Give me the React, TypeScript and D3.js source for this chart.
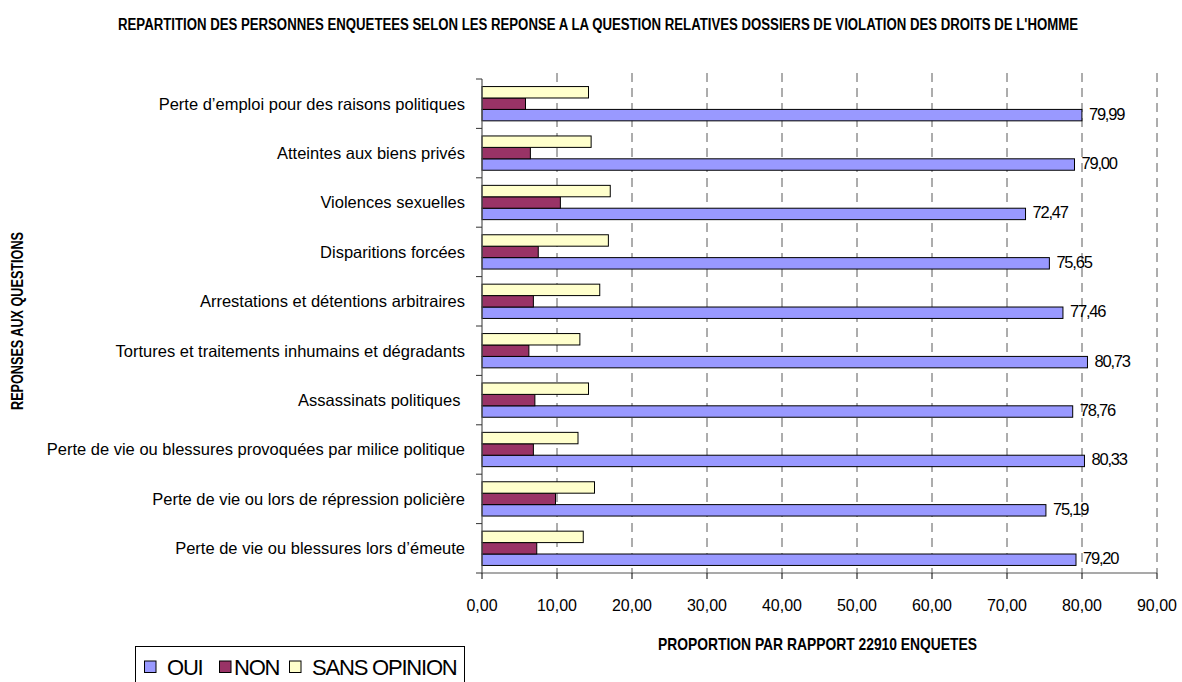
import React from "react";
import * as d3 from "d3";

const categories = [
  "Perte d’emploi pour des raisons politiques",
  "Atteintes aux biens privés",
  "Violences sexuelles",
  "Disparitions forcées",
  "Arrestations et détentions arbitraires",
  "Tortures et traitements inhumains et dégradants",
  "Assassinats politiques ",
  "Perte de vie ou blessures provoquées par milice politique",
  "Perte de vie ou lors de répression policière",
  "Perte de vie ou blessures lors d’émeute",
];
const oui = [79.99, 79.0, 72.47, 75.65, 77.46, 80.73, 78.76, 80.33, 75.19, 79.2];
const non = [5.8, 6.45, 10.45, 7.5, 6.85, 6.25, 7.05, 6.85, 9.8, 7.3];
const sansOpinion = [14.2, 14.55, 17.1, 16.85, 15.7, 13.05, 14.2, 12.8, 15.0, 13.5];
const xTicks = [0, 10, 20, 30, 40, 50, 60, 70, 80, 90];
const seriesNames = ["OUI", "NON", "SANS OPINION"];
const seriesColors = ["#9999FF", "#993366", "#FFFFCC"];
const title =
  "REPARTITION DES PERSONNES ENQUETEES SELON LES REPONSE A LA QUESTION RELATIVES DOSSIERS DE VIOLATION DES DROITS DE L'HOMME";
const xTitle = "PROPORTION PAR RAPPORT 22910 ENQUETES";
const yTitle = "REPONSES AUX QUESTIONS";

const FONT = "'Liberation Sans', Arial, sans-serif";

export default function App() {
  const W = 1182;
  const H = 682;
  const left = 482;
  const right = 1157;
  const top = 79;
  const bottom = 573;

  const x = d3.scaleLinear().domain([0, 90]).range([left, right]);
  const y = d3
    .scaleBand<string>()
    .domain(categories)
    .range([top, bottom])
    .paddingInner(0.306)
    .paddingOuter(0.153);
  // order inside group: SANS OPINION (top), NON, OUI (bottom)
  const inner = d3.scaleBand<number>().domain([2, 1, 0]).range([0, y.bandwidth()]);
  const seriesValues = [oui, non, sansOpinion];
  const fmt = (v: number) => d3.format(".2f")(v).replace(".", ",");

  const step = y.step();
  const boundaries = d3.range(categories.length + 1).map((i) => top + i * step);

  const titleScale = 0.76;

  return (
    <svg
      width={W}
      height={H}
      style={{ position: "absolute", left: 0, top: 0, background: "#fff" }}
      fontFamily={FONT}
    >
      <rect x={0} y={0} width={W} height={H} fill="#fff" />
      {/* title */}
      <text
        transform={`translate(118,30) scale(${titleScale},1)`}
        x={0}
        y={0}
        fontSize={16}
        fontWeight="bold"
        textLength={960 / titleScale}
        lengthAdjust="spacingAndGlyphs"
        fill="#000"
      >
        {title}
      </text>

      {/* gridlines */}
      {xTicks
        .filter((t) => t > 0)
        .map((t) => (
          <line
            key={"g" + t}
            x1={x(t)}
            x2={x(t)}
            y1={top - 6}
            y2={bottom}
            stroke="#5a5a5a"
            strokeWidth={1}
            strokeDasharray="9,6"
          />
        ))}

      {/* bars */}
      {categories.map((c, i) => (
        <g key={c}>
          {seriesValues.map((vals, s) => (
            <rect
              key={s}
              x={x(0)}
              y={(y(c) as number) + (inner(s) as number)}
              width={x(vals[i]) - x(0)}
              height={inner.bandwidth()}
              fill={seriesColors[s]}
              stroke="#000"
              strokeWidth={1}
            />
          ))}
          <text
            x={x(oui[i]) + 7}
            y={(y(c) as number) + (inner(0) as number) + inner.bandwidth() / 2 + 4.5}
            fontSize={16.5}
            letterSpacing={-1.2}
            fill="#000"
          >
            {fmt(oui[i])}
          </text>
          <text
            x={465}
            y={(y(c) as number) + y.bandwidth() / 2}
            dy="0.36em"
            fontSize={16.5}
            textAnchor="end"
            fill="#000"
            style={{ whiteSpace: "pre" }}
          >
            {c}
          </text>
        </g>
      ))}

      {/* y axis */}
      <line x1={left} x2={left} y1={top} y2={bottom} stroke="#555" strokeWidth={1.2} />
      {boundaries.map((b, i) => (
        <line key={"yt" + i} x1={left - 6} x2={left} y1={b} y2={b} stroke="#333" strokeWidth={1} />
      ))}

      {/* x axis */}
      <line x1={left} x2={right} y1={bottom} y2={bottom} stroke="#555" strokeWidth={1.2} />
      {xTicks.map((t) => (
        <g key={"xt" + t}>
          <line x1={x(t)} x2={x(t)} y1={bottom} y2={bottom + 6} stroke="#000" strokeWidth={1} />
          <text x={x(t)} y={611} fontSize={16} textAnchor="middle" fill="#000">
            {fmt(t)}
          </text>
        </g>
      ))}

      {/* axis titles */}
      <text
        x={658}
        y={650}
        fontSize={17}
        fontWeight="bold"
        textLength={319}
        lengthAdjust="spacingAndGlyphs"
        fill="#000"
      >
        {xTitle}
      </text>
      <text
        transform={`translate(23,${410}) rotate(-90)`}
        x={0}
        y={0}
        fontSize={16}
        fontWeight="bold"
        textLength={178}
        lengthAdjust="spacingAndGlyphs"
        fill="#000"
      >
        {yTitle}
      </text>

      {/* legend */}
      <rect x={135.5} y={646.5} width={329} height={50} fill="#fff" stroke="#000" strokeWidth={1} />
      {(() => {
        const squareX = [144, 219, 289];
        const textX = [167, 234, 312];
        return seriesNames.map((n, s) => (
          <g key={n}>
            <rect
              x={squareX[s] + 0.5}
              y={661}
              width={11.5}
              height={11.5}
              fill={seriesColors[s]}
              stroke="#000"
              strokeWidth={1}
            />
            <text x={textX[s]} y={675} fontSize={22} letterSpacing={-1.2} fill="#000">
              {n}
            </text>
          </g>
        ));
      })()}
    </svg>
  );
}
